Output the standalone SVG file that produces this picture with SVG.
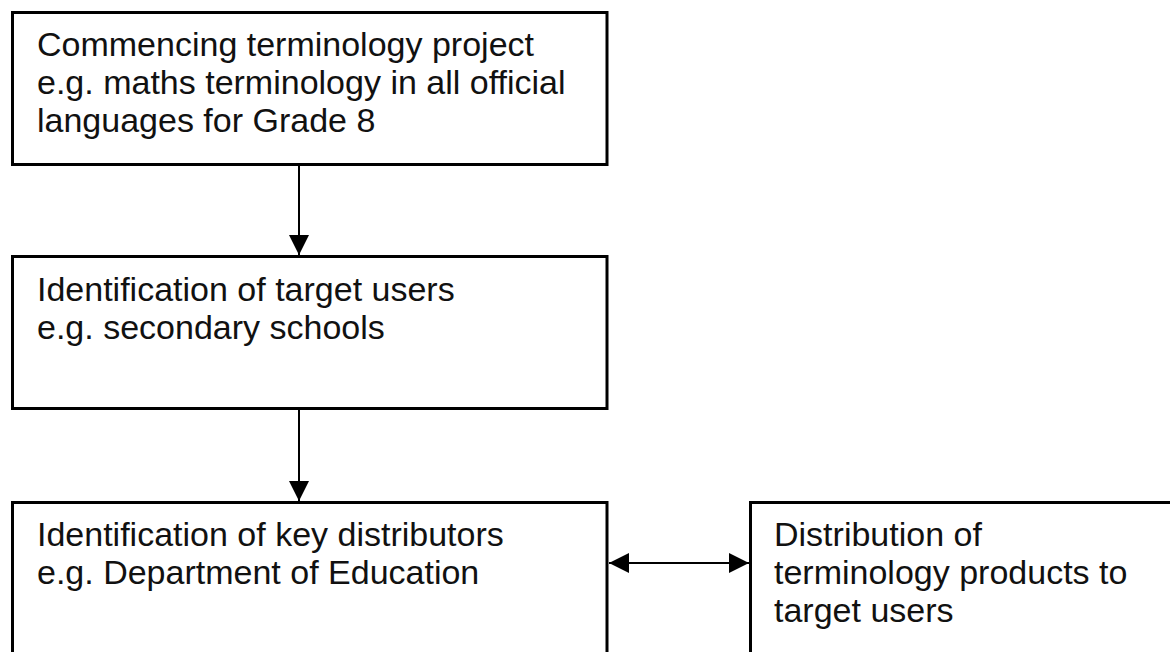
<svg xmlns="http://www.w3.org/2000/svg" width="1170" height="652" viewBox="0 0 1170 652">
  <style>
    .box { fill: #ffffff; stroke: #000000; stroke-width: 3; }
    .label { font-family: "Liberation Sans", Arial, sans-serif; font-size: 34px; fill: #111111; }
    .link { stroke: #000000; stroke-width: 2; fill: none; }
  </style>
  <defs>
    <marker id="arrow-end" markerUnits="userSpaceOnUse" markerWidth="20" markerHeight="20" refX="20" refY="10" orient="auto">
      <path d="M0,0 L20,10 L0,20 Z" fill="#000000"/>
    </marker>
    <marker id="arrow-start" markerUnits="userSpaceOnUse" markerWidth="20" markerHeight="20" refX="0" refY="10" orient="auto">
      <path d="M20,0 L0,10 L20,20 Z" fill="#000000"/>
    </marker>
  </defs>

  <rect width="1170" height="652" fill="#ffffff"/>

  <g id="node-commencing">
    <rect class="box" x="12.5" y="12.5" width="594.5" height="152"/>
    <text class="label" x="37" y="56">Commencing terminology project</text>
    <text class="label" x="37" y="94">e.g. maths terminology in all official</text>
    <text class="label" x="37" y="132">languages for Grade 8</text>
  </g>

  <g id="node-target-users">
    <rect class="box" x="12.5" y="256.5" width="594.5" height="152"/>
    <text class="label" x="37" y="301">Identification of target users</text>
    <text class="label" x="37" y="339">e.g. secondary schools</text>
  </g>

  <g id="node-key-distributors">
    <rect class="box" x="12.5" y="502.5" width="594.5" height="200"/>
    <text class="label" x="37" y="546">Identification of key distributors</text>
    <text class="label" x="37" y="584">e.g. Department of Education</text>
  </g>

  <g id="node-distribution">
    <rect class="box" x="750.5" y="502.5" width="500" height="200"/>
    <text class="label" x="774" y="546">Distribution of</text>
    <text class="label" x="774" y="584">terminology products to</text>
    <text class="label" x="774" y="622">target users</text>
  </g>

  <g id="connectors">
    <line class="link" x1="299" y1="166" x2="299" y2="255" marker-end="url(#arrow-end)"/>
    <line class="link" x1="299" y1="410" x2="299" y2="501" marker-end="url(#arrow-end)"/>
    <line class="link" x1="609" y1="563" x2="749" y2="563" marker-start="url(#arrow-start)" marker-end="url(#arrow-end)"/>
  </g>
</svg>
